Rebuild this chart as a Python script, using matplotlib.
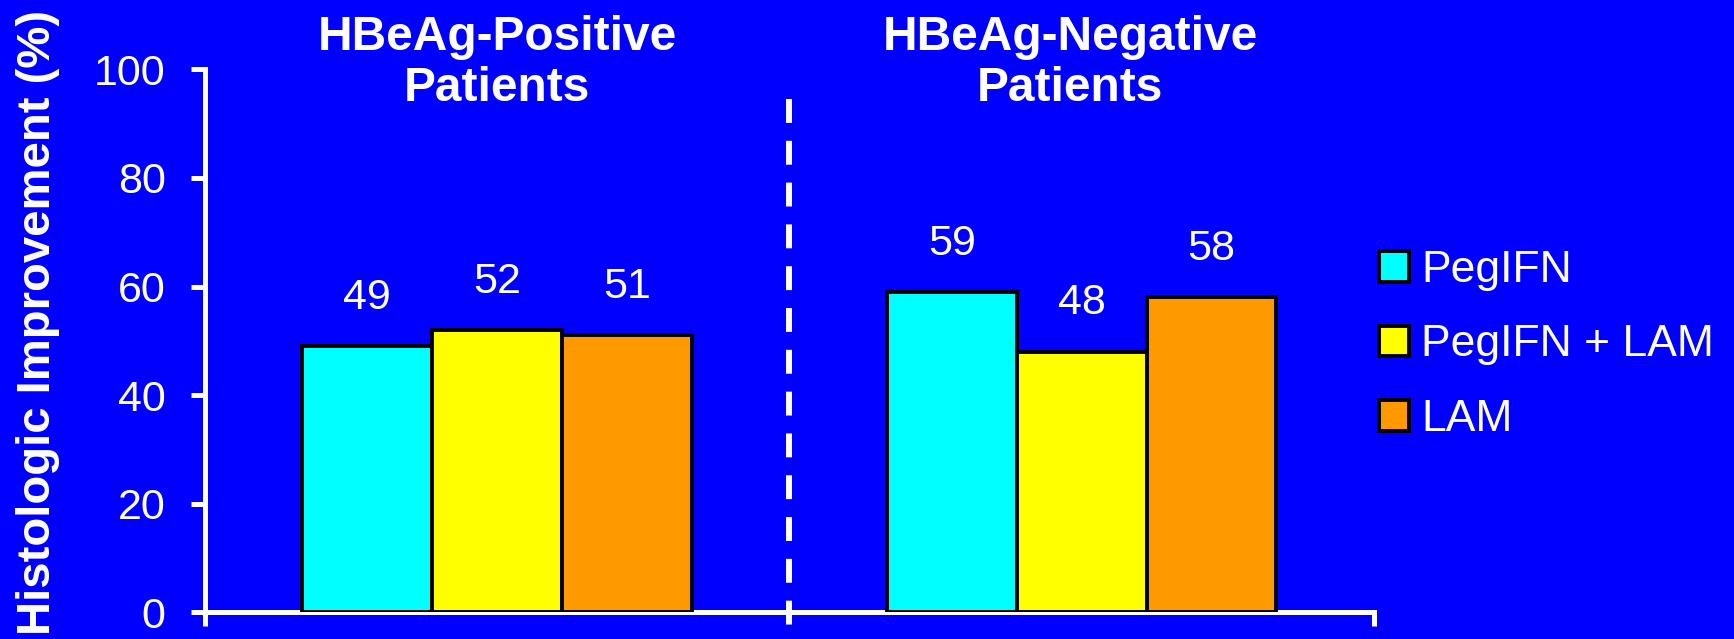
import numpy as np
import matplotlib
matplotlib.use('Agg')
import matplotlib.pyplot as plt
from matplotlib import rcParams
from matplotlib.transforms import blended_transform_factory

rcParams['font.family'] = ['Liberation Sans', 'DejaVu Sans']

# data
groups = ['HBeAg-Positive\nPatients', 'HBeAg-Negative\nPatients']
treatments = ['PegIFN', 'PegIFN + LAM', 'LAM']
pegifn = [49, 59]
pegifn_lam = [52, 48]
lam = [51, 58]
colors = ['#00FFFF', '#FFFF00', '#FF9900']
bg = '#0000FF'

fig = plt.figure(figsize=(17.34, 6.39), dpi=100, facecolor=bg)
ax = fig.add_axes([0.118, 0.0415, 0.6744, 0.850])
ax.set_facecolor(bg)

x = np.arange(len(groups))
w = 0.222
series = [pegifn, pegifn_lam, lam]
for i, (vals, c, name) in enumerate(zip(series, colors, treatments)):
    bars = ax.bar(x + (i - 1) * w, vals, w, color=c, edgecolor='black',
                  linewidth=2.8, label=name, zorder=3)
    for b, v in zip(bars, vals):
        ax.annotate(f'{v}', (b.get_x() + b.get_width() / 2, v),
                    xytext=(0, 27), textcoords='offset points',
                    ha='center', va='baseline', fontsize=31, color='white')

ax.set_xlim(-0.5, 1.5)
ax.set_ylim(0, 100)
ax.set_yticks([0, 20, 40, 60, 80, 100])
ax.set_xticks([-0.5, 1.5])
ax.set_xticklabels([])
ax.tick_params(axis='y', colors='white', labelsize=31, width=3.6, length=10, pad=18)
ax.tick_params(axis='x', colors='white', width=3.6, length=10)
for s in ['top', 'right']:
    ax.spines[s].set_visible(False)
for s in ['left', 'bottom']:
    ax.spines[s].set_color('white')
    ax.spines[s].set_linewidth(3.6)

# dashed separator
ax.plot([0.5, 0.5], [94.5, -2.7], color='white', lw=4.3,
        linestyle=(0, (4.0, 3.0)), solid_capstyle='butt', dash_capstyle='butt',
        clip_on=False, zorder=4)

# group titles
tr = blended_transform_factory(ax.transData, fig.transFigure)
ax.text(0, 0.901, groups[0], transform=tr, ha='center', va='center',
        fontsize=34.5, fontweight='bold', color='white', linespacing=1.18)
ax.text(0.98, 0.901, groups[1], transform=tr, ha='center', va='center',
        fontsize=34.5, fontweight='bold', color='white', linespacing=1.18)

fig.text(38 / 1734, 1 - 322 / 639, 'Histologic Improvement (%)', rotation=90,
         ha='center', va='center', fontsize=34, fontweight='bold', color='white')

leg = fig.legend(loc='center left', bbox_to_anchor=(1379 / 1734, 1 - 345 / 639),
                 frameon=False, fontsize=32, labelcolor='white',
                 handlelength=0.68, handleheight=0.68, handletextpad=0.27,
                 labelspacing=0.75, borderpad=0, borderaxespad=0)

fig.savefig('out.png', facecolor=bg, dpi=100)
